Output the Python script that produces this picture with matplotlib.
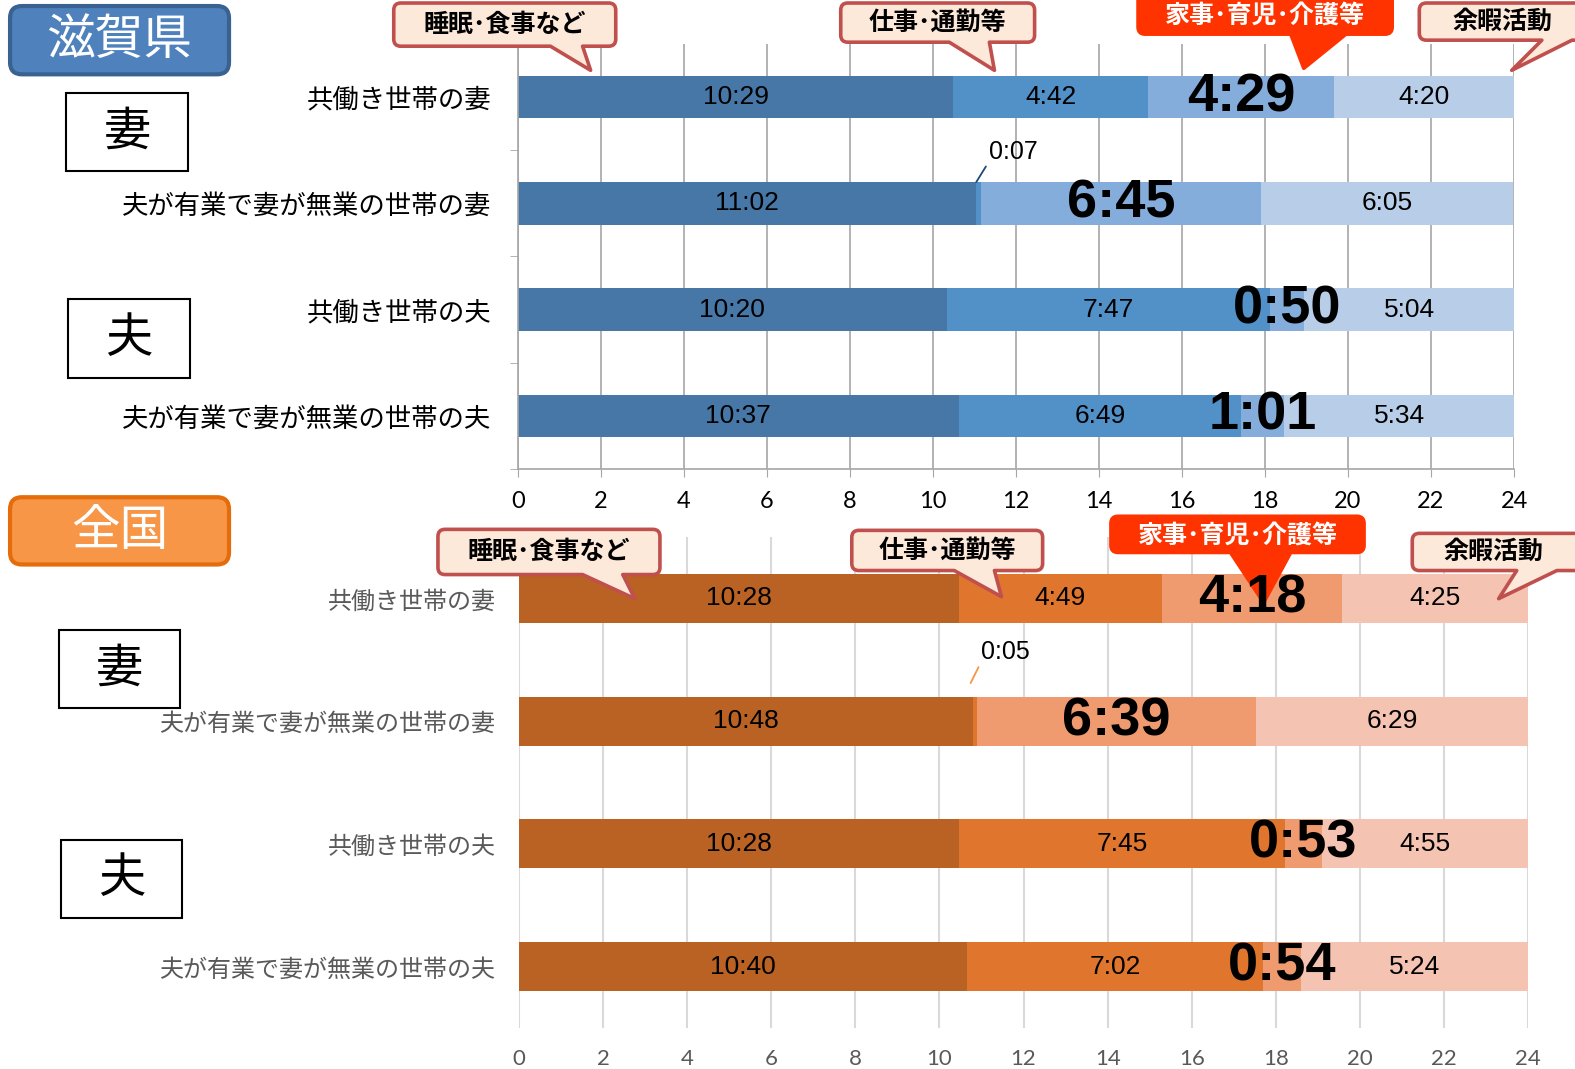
import matplotlib
matplotlib.use('Agg')
import matplotlib.pyplot as plt
from matplotlib.path import Path
from matplotlib.patches import PathPatch, FancyBboxPatch, Rectangle

W, H = 1575, 1069
S = W / 1568.0

JP = ['Noto Sans CJK JP', 'DejaVu Sans']
NUM = ['Liberation Sans', 'DejaVu Sans']
TICKF = ['Lato', 'DejaVu Sans']

# ---------------- data ----------------
categories = ['共働き世帯の妻', '夫が有業で妻が無業の世帯の妻', '共働き世帯の夫', '夫が有業で妻が無業の世帯の夫']
activities = ['睡眠･食事など', '仕事･通勤等', '家事･育児･介護等', '余暇活動']

shiga_sleep = ['10:29', '11:02', '10:20', '10:37']
shiga_work = ['4:42', '0:07', '7:47', '6:49']
shiga_house = ['4:29', '6:45', '0:50', '1:01']
shiga_leisure = ['4:20', '6:05', '5:04', '5:34']

japan_sleep = ['10:28', '10:48', '10:28', '10:40']
japan_work = ['4:49', '0:05', '7:45', '7:02']
japan_house = ['4:18', '6:39', '0:53', '0:54']
japan_leisure = ['4:25', '6:29', '4:55', '5:24']

xticks = list(range(0, 25, 2))

blue_colors = ['#4677A7', '#5290C8', '#84ADDC', '#B8CDE8']
orange_colors = ['#B96224', '#E0752E', '#F09A70', '#F5C3B1']


def hm(s):
    h, m = s.split(':')
    return int(h) + int(m) / 60.0


fig = plt.figure(figsize=(W / 100, H / 100), dpi=100)


def px(x, y):
    return (x * S / 100.0, (H - y * S) / 100.0)


def draw_panel(ax, series, colors, leader_color, top_style, lead):
    n = len(categories)
    ys = list(range(n))
    lefts = [0.0] * n
    for j, ser in enumerate(series):
        vals = [hm(v) for v in ser]
        ax.barh(ys, vals, left=lefts, height=0.4, color=colors[j], zorder=2, linewidth=0)
        for i in range(n):
            c = lefts[i] + vals[i] / 2
            if vals[i] < 0.5:
                ax.annotate(ser[i], xy=(c + lead[0], i + lead[1]),
                            xytext=(c + lead[2], i + lead[3]),
                            ha='left', va='center', fontsize=18, family=NUM, color='black',
                            arrowprops=dict(arrowstyle='-', color=leader_color, lw=1.3,
                                            shrinkA=0, shrinkB=0, relpos=(0, 0.1)),
                            zorder=6)
            elif j == 2:
                ax.text(c, i, ser[i], ha='center', va='center', fontsize=39, fontweight='bold',
                        family=NUM, color='black', zorder=6)
            else:
                ax.text(c, i, ser[i], ha='center', va='center', fontsize=19,
                        family=NUM, color='black', zorder=6)
        lefts = [lefts[i] + vals[i] for i in range(n)]
    ax.set_xlim(0, 24)
    ax.set_ylim(n - 0.5, -0.5)
    ax.set_xticks(xticks)
    ax.set_yticks(ys)
    ax.set_axisbelow(True)
    ax.set_facecolor('none')
    for s in ['top', 'right']:
        ax.spines[s].set_visible(False)
    if top_style:
        ax.xaxis.grid(True, color='#A6A6A6', lw=1.2, zorder=0)
        ax.spines['left'].set_color('#A6A6A6')
        ax.spines['bottom'].set_color('#A6A6A6')
        ax.spines['left'].set_linewidth(1.2)
        ax.spines['bottom'].set_linewidth(1.2)
        ax.tick_params(axis='x', length=6, color='#A6A6A6', pad=10, labelsize=17,
                       labelcolor='black')
        ax.set_yticks([0.5, 1.5, 2.5, 3.5], minor=True)
        ax.tick_params(axis='y', which='minor', length=6, color='#A6A6A6')
        ax.tick_params(axis='y', which='major', length=0, pad=19)
        ax.set_yticklabels(categories, family=JP, fontsize=19, color='black')
    else:
        ax.xaxis.grid(True, color='#D9D9D9', lw=1.5, zorder=0)
        ax.spines['left'].set_visible(False)
        ax.spines['bottom'].set_visible(False)
        ax.tick_params(axis='x', length=0, pad=15, labelsize=16, labelcolor='#595959')
        ax.tick_params(axis='y', which='major', length=0, pad=17)
        ax.set_yticklabels(categories, family=JP, fontsize=17.3, color='#595959')
    for lab in ax.get_xticklabels():
        lab.set_family(TICKF)


# axes positions from pixels (full-size)
ax1 = fig.add_axes([518 / W, 1 - 469 / H, (1514 - 518) / W, (469 - 44) / H])
ax2 = fig.add_axes([519 / W, 1 - 1028 / H, (1528 - 519) / W, (1028 - 537) / H])

draw_panel(ax1, [shiga_sleep, shiga_work, shiga_house, shiga_leisure], blue_colors, '#1F497D', True,
           (-0.05, -0.2, 0.25, -0.48))
draw_panel(ax2, [japan_sleep, japan_work, japan_house, japan_leisure], orange_colors, '#F79646', False,
           (-0.1, -0.31, 0.15, -0.56))


# ---------------- callouts ----------------
def callout(ax, x0, y0, x1, y1, tb0, tb1, tip, text, fc, ec, tc, ty=None, tx=None, r=7):
    verts = [px(x0 + r, y1), px(tb0, y1), px(*tip), px(tb1, y1), px(x1 - r, y1),
             px(x1, y1), px(x1, y1 - r), px(x1, y0 + r),
             px(x1, y0), px(x1 - r, y0), px(x0 + r, y0),
             px(x0, y0), px(x0, y0 + r), px(x0, y1 - r),
             px(x0, y1), px(x0 + r, y1), px(x0 + r, y1)]
    codes = [Path.MOVETO, Path.LINETO, Path.LINETO, Path.LINETO, Path.LINETO,
             Path.CURVE3, Path.CURVE3, Path.LINETO,
             Path.CURVE3, Path.CURVE3, Path.LINETO,
             Path.CURVE3, Path.CURVE3, Path.LINETO,
             Path.CURVE3, Path.CURVE3, Path.CLOSEPOLY]
    p = PathPatch(Path(verts, codes), transform=fig.dpi_scale_trans, facecolor=fc,
                  edgecolor=ec, lw=2.6, joinstyle='round', zorder=4, clip_on=False)
    ax.add_artist(p)
    cy = (y0 + y1) / 2 if ty is None else ty
    cx = (x0 + x1) / 2 if tx is None else tx
    ax.text(*px(cx, cy), text, transform=fig.dpi_scale_trans, ha='center', va='center',
            fontsize=18, fontweight='bold', family=JP, color=tc, zorder=5, clip_on=False)


PEACH, RED_E, RED = '#FDE9D9', '#C0504D', '#FF3300'
# Shiga
callout(ax1, 392, 3, 613, 46, 548, 580, (588, 70), activities[0], PEACH, RED_E, 'black')
callout(ax1, 837, 3, 1030, 42, 945, 985, (990, 70), activities[1], PEACH, RED_E, 'black')
callout(ax1, 1133, -12, 1386, 34, 1285, 1340, (1298, 68), activities[2], RED, RED, 'white', ty=16)
callout(ax1, 1413, 3, 1600, 40, 1535, 1565, (1505, 70), activities[3], PEACH, RED_E, 'black', tx=1496)
# Japan
callout(ax2, 436, 527, 657, 572, 580, 620, (632, 596), activities[0], PEACH, RED_E, 'black')
callout(ax2, 848, 528, 1038, 568, 950, 990, (997, 594), activities[1], PEACH, RED_E, 'black')
callout(ax2, 1106, 514, 1358, 550, 1225, 1285, (1258, 600), activities[2], RED, RED, 'white', ty=533)
callout(ax2, 1406, 531, 1600, 568, 1510, 1550, (1492, 596), activities[3], PEACH, RED_E, 'black', tx=1487)


# ---------------- title boxes ----------------
def title_box(x0, y0, x1, y1, text, fc, ec):
    ax0, ay1 = px(x0, y0)
    ax1_, ay0 = px(x1, y1)
    b = FancyBboxPatch((ax0, ay0), ax1_ - ax0, ay1 - ay0,
                       boxstyle='round,pad=0,rounding_size=0.12',
                       transform=fig.dpi_scale_trans, facecolor=fc, edgecolor=ec, lw=3, zorder=6)
    fig.add_artist(b)
    fig.text((ax0 + ax1_) / 2, (ay0 + ay1) / 2, text, transform=fig.dpi_scale_trans,
             ha='center', va='center', fontsize=35, family=JP, color='white', zorder=7)


title_box(10, 6, 228, 74, '滋賀県', '#4F81BD', '#3A6291')
title_box(10, 495, 228, 562, '全国', '#F79646', '#E46C0A')


def small_box(x0, y0, x1, y1, text):
    ax0, ay1 = px(x0, y0)
    ax1_, ay0 = px(x1, y1)
    r = Rectangle((ax0, ay0), ax1_ - ax0, ay1 - ay0, transform=fig.dpi_scale_trans,
                  facecolor='white', edgecolor='black', lw=1.5, zorder=6)
    fig.add_artist(r)
    fig.text((ax0 + ax1_) / 2, (ay0 + ay1) / 2, text, transform=fig.dpi_scale_trans,
             ha='center', va='center', fontsize=34, family=JP, color='black', zorder=7)


small_box(66, 93, 187, 170, '妻')
small_box(68, 298, 189, 376, '夫')
small_box(59, 627, 179, 705, '妻')
small_box(61, 836, 181, 914, '夫')

fig.savefig('out.png', dpi=100)
